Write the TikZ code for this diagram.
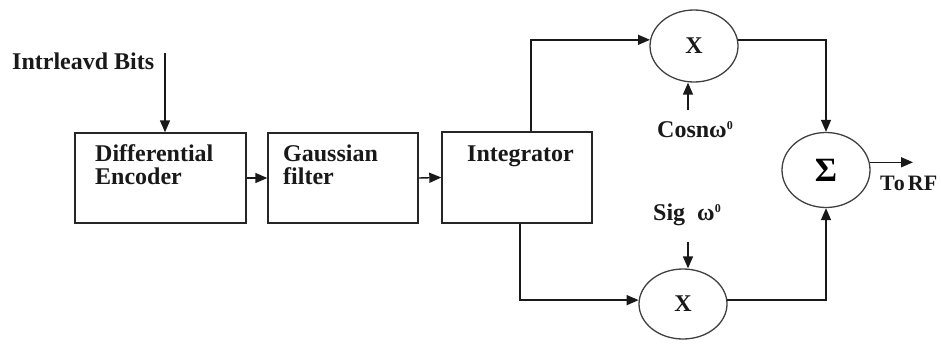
\documentclass[tikz,border=0pt]{standalone}
\usepackage{fontspec}
\setmainfont{Liberation Serif}
\usetikzlibrary{arrows.meta,shapes.geometric}
\newcommand{\supzero}{\raisebox{8pt}{\fontsize{12}{12}\selectfont 0}}
\begin{document}
\begin{tikzpicture}[x=1pt,y=-1pt,
  lbl/.style={font=\bfseries\fontsize{24}{24}\selectfont, inner sep=0pt, text=black!90},
  blk/.style={draw=black!85, line width=1.4pt, inner sep=0pt, minimum height=90pt},
  mix/.style={draw=black!75, line width=1.3pt, ellipse, inner sep=0pt, minimum width=88pt},
  arr/.style={line width=1.4pt, draw=black!90, -{Triangle[length=12pt,width=10pt]}},
  ]
\useasboundingbox (0,0) rectangle (941,343);
% blocks
\node[blk, minimum width=171pt] (enc) at (160.5,178) {};
\node[blk, minimum width=150pt] (gau) at (343,178) {};
\node[blk, minimum width=150pt, minimum height=91pt] (int) at (517,177.5) {};
\node[lbl, anchor=base west] (encA) at (95,161) {Differential};
\node[lbl, anchor=base west] (encB) at (95,184) {Encoder};
\node[lbl, anchor=base west] (gauA) at (283,161) {Gaussian};
\node[lbl, anchor=base west] (gauB) at (283,184) {filter};
\node[lbl, anchor=base west] (intA) at (467,161) {Integrator};
% mixers
\node[mix, minimum height=72pt, lbl] (m1) at (694,46) {X};
\node[mix, minimum height=70pt, lbl] (m2) at (683,304) {X};
\node[mix, minimum height=75pt, font=\bfseries\fontsize{34}{34}\selectfont] (sum) at (826,170) {Σ};
% input
\node[lbl, anchor=base west] (inL) at (12,69) {Intrleavd Bits};
\coordinate (inT) at (165,53);
\draw[arr] (inT) -- (inT |- enc.north);
% chain
\draw[arr] (enc.east) -- (gau.west);
\draw[arr] (gau.east) -- (int.west);
% branches
\coordinate (up) at (531,0);
\coordinate (dn) at (520,0);
\draw[arr] (int.north -| up) |- (m1.172);
\draw[arr] (int.south -| dn) |- (m2.175);
% carriers
\node[lbl, anchor=base west] (cosL) at (657,137) {Cosnω\supzero};
\coordinate (cosA) at (688,110);
\draw[arr] (cosA) -- (cosA |- m1.south);
\node[lbl, anchor=base west] (sigL) at (653,220) {Sig\ \ ω\supzero};
\coordinate (sigA) at (688,242);
\draw[arr] (sigA) -- (sigA |- m2.north);
% to sum
\draw[arr] (m1.8) -| (sum.north);
\draw[arr] (m2.5) -| (sum.south);
\coordinate (rf) at (913,0);
\draw[arr] (sum.10) -- (sum.10 -| rf);
\node[lbl, font=\bfseries\fontsize{22}{22}\selectfont, anchor=base west] (rfL) at (880,190) {T\kern-1pt o\hspace{3pt}RF};
\end{tikzpicture}
\end{document}
